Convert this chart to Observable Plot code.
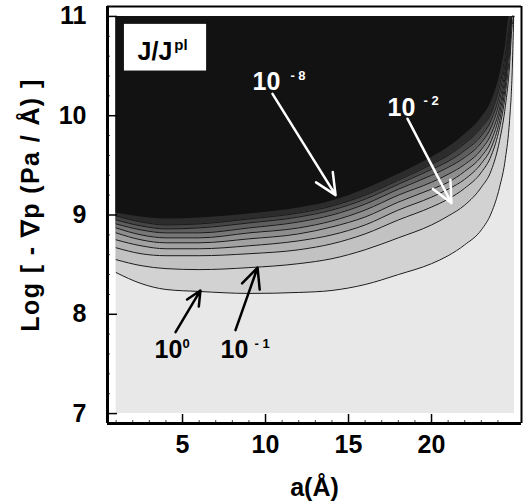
<!DOCTYPE html>
<html><head><meta charset="utf-8">
<script src="https://cdn.jsdelivr.net/npm/d3@7"></script>
<script src="https://cdn.jsdelivr.net/npm/@observablehq/plot@0.6"></script>
<style>body{margin:0;background:#fff;}</style>
</head><body><div id="chart"></div>
<script>
// a (Å) sample positions along each contour line
const aGrid = [1, 2.5, 4, 6, 9, 12, 14, 16, 18, 20, 21, 22, 23, 23.6, 24.1, 24.45, 24.7, 24.85, 24.95];
// Log[-grad p] of each contour level J/Jpl = 10^0 ... 10^-8
const c0 = [8.42, 8.31, 8.25, 8.23, 8.21, 8.22, 8.24, 8.30, 8.40, 8.51, 8.59, 8.70, 8.85, 9.02, 9.28, 9.57, 9.95, 10.4, 11];
const c1 = [8.55, 8.49, 8.46, 8.45, 8.47, 8.51, 8.56, 8.65, 8.77, 8.90, 8.99, 9.10, 9.28, 9.45, 9.75, 10.1, 10.5, 10.9, 11];
const c2 = [8.67, 8.61, 8.59, 8.59, 8.61, 8.65, 8.71, 8.81, 8.95, 9.08, 9.16, 9.27, 9.43, 9.60, 9.88, 10.22, 10.62, 11, 11];
const c3 = [8.75, 8.69, 8.66, 8.66, 8.69, 8.74, 8.80, 8.90, 9.05, 9.18, 9.26, 9.36, 9.52, 9.68, 9.95, 10.3, 10.7, 11, 11];
const c4 = [8.82, 8.75, 8.72, 8.72, 8.76, 8.81, 8.88, 8.98, 9.13, 9.26, 9.33, 9.44, 9.59, 9.75, 10.02, 10.36, 10.75, 11, 11];
const c5 = [8.87, 8.80, 8.77, 8.77, 8.82, 8.87, 8.94, 9.05, 9.20, 9.33, 9.41, 9.51, 9.66, 9.82, 10.08, 10.42, 10.8, 11, 11];
const c6 = [8.91, 8.85, 8.82, 8.82, 8.87, 8.93, 9.00, 9.11, 9.26, 9.40, 9.48, 9.58, 9.73, 9.89, 10.15, 10.48, 10.85, 11, 11];
const c7 = [8.95, 8.89, 8.86, 8.87, 8.92, 8.98, 9.05, 9.16, 9.31, 9.46, 9.54, 9.65, 9.80, 9.96, 10.22, 10.55, 10.9, 11, 11];
const c8 = [8.99, 8.93, 8.90, 8.91, 8.96, 9.02, 9.09, 9.20, 9.35, 9.51, 9.60, 9.72, 9.88, 10.03, 10.30, 10.62, 10.95, 11, 11];
const cEdge = [9.02, 8.98, 8.96, 8.97, 9.01, 9.07, 9.14, 9.26, 9.41, 9.58, 9.68, 9.81, 9.98, 10.14, 10.40, 10.70, 11, 11, 11];

const levels = [c0, c1, c2, c3, c4, c5, c6, c7, c8, cEdge];
const bandFills = ["#d2d2d2", "#c2c2c2", "#b2b2b2", "#a2a2a2", "#8e8e8e", "#777777", "#5e5e5e", "#454545", "#2c2c2c", "#121212"];
const baseFill = "#e8e8e8";

const aRange = [1, 25];
const logRange = [7, 11];
const xTicks = [5, 10, 15, 20];
const yTicks = [7, 8, 9, 10, 11];
const xDomain = [0.48, 25.42];
const yDomain = [6.9, 11.1];

// annotations
const arrows = [
  {x1: 10.42, y1: 10.22, x2: 14.22, y2: 9.20, c: "white"},
  {x1: 18.55, y1: 9.97, x2: 21.2, y2: 9.12, c: "white"},
  {x1: 4.58, y1: 7.82, x2: 6.08, y2: 8.24, c: "black"},
  {x1: 8.19, y1: 7.84, x2: 9.52, y2: 8.47, c: "black"}
];
const bases = [
  {x: 9.22, y: 10.254, t: "10", c: "white"},
  {x: 17.35, y: 10.0, t: "10", c: "white"},
  {x: 3.31, y: 7.555, t: "10", c: "black"},
  {x: 7.29, y: 7.555, t: "10", c: "black"}
];
const exps = [
  {x: 11.5, y: 10.355, t: "- 8", c: "white"},
  {x: 19.52, y: 10.103, t: "- 2", c: "white"},
  {x: 5.0, y: 7.665, t: "0", c: "black"},
  {x: 9.34, y: 7.665, t: "- 1", c: "black"}
];
const boxX = [1.5, 6.45];
const boxY = [10.45, 10.92];

const W = 523, H = 504, mL = 107, mR = 2, mT = 6, mB = 81;
const innerW = W - mL - mR, innerH = H - mT - mB;
const font = "Liberation Sans, Arial, sans-serif";

const topEdge = aGrid.map(() => logRange[1]);
const marks = [
  Plot.rect([0], {x1: aRange[0], x2: aRange[1], y1: logRange[0], y2: logRange[1], fill: baseFill}),
  ...levels.map((lv, k) => Plot.areaY(aGrid, {x: aGrid, y1: lv, y2: topEdge, fill: bandFills[k], curve: "monotone-x"})),
  ...levels.slice(0, 9).map(lv => Plot.line(aGrid, {x: aGrid, y: lv, stroke: "#1a1a1a", strokeWidth: 1, curve: "monotone-x"})),
  Plot.rect([0], {x1: boxX[0], x2: boxX[1], y1: boxY[0], y2: boxY[1], fill: "white"}),
  Plot.text(["J/J"], {x: 2.29, y: 10.566, text: d => d, textAnchor: "start", lineAnchor: "bottom", fontSize: 25, fontWeight: "bold", fill: "black"}),
  Plot.text(["pl"], {x: 4.5, y: 10.66, text: d => d, textAnchor: "start", lineAnchor: "bottom", fontSize: 15, fontWeight: "bold", fill: "black"}),
  Plot.arrow(arrows, {x1: "x1", y1: "y1", x2: "x2", y2: "y2", stroke: "c", strokeWidth: 2.5, headLength: 14, headAngle: 50}),
  Plot.text(bases, {x: "x", y: "y", text: "t", fill: "c", textAnchor: "start", lineAnchor: "bottom", fontSize: 25, fontWeight: "bold"}),
  Plot.text(exps, {x: "x", y: "y", text: "t", fill: "c", textAnchor: "start", lineAnchor: "bottom", fontSize: 13, fontWeight: "bold"}),
  // ticks (inward)
  Plot.ruleY(yTicks, {y: d => d, insetRight: innerW - 10, stroke: "black", strokeWidth: 1.5}),
  Plot.ruleY(d3.range(7.2, 11, 0.2).filter(v => Math.abs(v - Math.round(v)) > 0.05), {y: d => d, insetRight: innerW - 3, stroke: "#444", strokeWidth: 1}),
  Plot.ruleX(xTicks, {x: d => d, insetTop: innerH - 9, stroke: "black", strokeWidth: 1.5}),
  Plot.ruleX(d3.range(1, 26, 1).filter(v => v % 5 !== 0), {x: d => d, insetTop: innerH - 3, stroke: "#444", strokeWidth: 1}),
  // frame
  Plot.ruleY([yDomain[1]], {y: d => d, stroke: "black", strokeWidth: 2}),
  Plot.ruleX([xDomain[1]], {x: d => d, stroke: "black", strokeWidth: 2}),
  Plot.ruleX([xDomain[0]], {x: d => d, stroke: "black", strokeWidth: 3}),
  Plot.ruleY([yDomain[0]], {y: d => d, stroke: "black", strokeWidth: 3}),
  // tick labels
  Plot.text(xTicks, {x: d => d, text: d => String(d), frameAnchor: "bottom", dy: 12, lineAnchor: "top", textAnchor: "middle", fontSize: 25, fontWeight: "bold", fill: "black"}),
  Plot.text(yTicks, {y: d => d, text: d => String(d), frameAnchor: "left", dx: -21, textAnchor: "end", lineAnchor: "middle", fontSize: 25, fontWeight: "bold", fill: "black"}),
  // axis titles
  Plot.text(["a(Å)"], {text: d => d, frameAnchor: "bottom", dy: 64, lineAnchor: "middle", textAnchor: "middle", fontSize: 25, fontWeight: "bold", fill: "black"}),
  Plot.text(["Log [ - \u2207p (Pa / Å) ]"], {text: d => d, frameAnchor: "left", dx: -77, dy: -10, rotate: -90, textAnchor: "middle", lineAnchor: "middle", fontSize: 25, fontWeight: "bold", fill: "black", className: "ytitle"})
];

const chart = Plot.plot({
  width: W, height: H,
  marginLeft: mL, marginRight: mR, marginTop: mT, marginBottom: mB,
  x: {domain: xDomain, axis: null},
  y: {domain: yDomain, axis: null},
  style: {fontFamily: font, background: "white", overflow: "visible"},
  marks
});
d3.select(chart).selectAll(".ytitle text").attr("letter-spacing", "1.4px");
document.getElementById("chart").appendChild(chart);
</script>
</body></html>
